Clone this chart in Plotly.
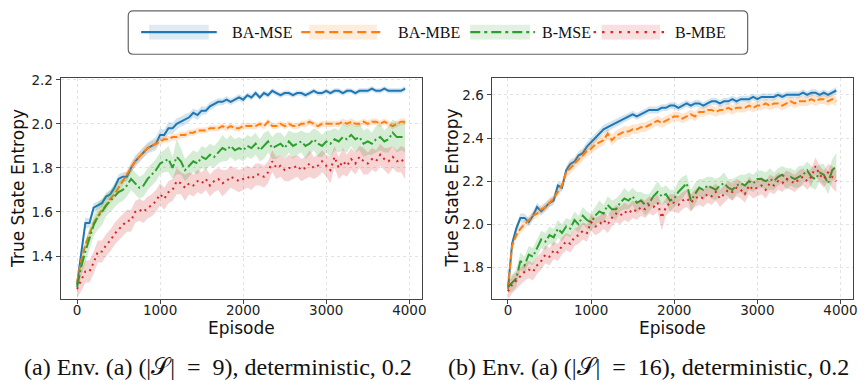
import plotly.graph_objects as go

# ---------------- data ----------------
episodes = list(range(0, 4000, 50))

series_names = ["BA-MSE", "BA-MBE", "B-MSE", "B-MBE"]

# Panel (a): |S| = 9
a_ba_mse = [1.27, 1.42, 1.55, 1.55, 1.62, 1.63, 1.64, 1.67, 1.68, 1.71,
            1.75, 1.76, 1.76, 1.80, 1.83, 1.85, 1.87, 1.89, 1.90, 1.91,
            1.95, 1.95, 1.98, 1.98, 2.00, 2.01, 2.02, 2.03, 2.05, 2.04,
            2.06, 2.06, 2.08, 2.09, 2.10, 2.10, 2.11, 2.10, 2.11, 2.12,
            2.11, 2.13, 2.12, 2.14, 2.12, 2.14, 2.13, 2.15, 2.14, 2.13,
            2.14, 2.14, 2.13, 2.14, 2.14, 2.13, 2.14, 2.15, 2.14, 2.14,
            2.15, 2.14, 2.15, 2.15, 2.14, 2.15, 2.15, 2.14, 2.15, 2.15,
            2.15, 2.16, 2.15, 2.15, 2.16, 2.15, 2.15, 2.15, 2.15, 2.16]
a_ba_mse_sd = [0.02, 0.03, 0.025, 0.02, 0.02, 0.02, 0.018, 0.018, 0.02, 0.02,
               0.02, 0.02, 0.022, 0.022, 0.025, 0.025, 0.025, 0.025, 0.028, 0.03,
               0.028, 0.025, 0.028, 0.025, 0.025, 0.022, 0.024, 0.02, 0.02, 0.022,
               0.02, 0.018, 0.018, 0.016, 0.016, 0.015, 0.015, 0.014, 0.014, 0.015,
               0.014, 0.013, 0.013, 0.013, 0.012, 0.013, 0.012, 0.012, 0.012, 0.012,
               0.012, 0.012, 0.011, 0.012, 0.012, 0.012, 0.011, 0.012, 0.012, 0.012,
               0.012, 0.011, 0.012, 0.012, 0.012, 0.012, 0.011, 0.012, 0.012, 0.012,
               0.012, 0.012, 0.011, 0.012, 0.012, 0.012, 0.012, 0.011, 0.012, 0.012]

a_ba_mbe = [1.28, 1.38, 1.45, 1.50, 1.55, 1.58, 1.61, 1.63, 1.66, 1.68,
            1.71, 1.74, 1.77, 1.80, 1.83, 1.85, 1.87, 1.89, 1.90, 1.91,
            1.92, 1.93, 1.93, 1.94, 1.94, 1.95, 1.95, 1.96, 1.96, 1.97,
            1.97, 1.97, 1.98, 1.98, 1.98, 1.99, 1.98, 1.99, 1.98, 1.98,
            1.99, 1.99, 1.99, 1.99, 2.00, 1.99, 2.01, 1.99, 1.99, 2.00,
            1.99, 2.00, 1.99, 1.99, 2.00, 2.00, 2.01, 2.00, 1.99, 2.00,
            2.00, 2.00, 2.00, 2.00, 2.01, 2.00, 2.01, 2.00, 2.00, 2.01,
            2.00, 2.01, 2.01, 2.00, 2.01, 2.00, 1.99, 2.00, 2.01, 2.01]
a_ba_mbe_sd = [0.02, 0.02, 0.02, 0.02, 0.02, 0.02, 0.02, 0.02, 0.02, 0.02,
               0.02, 0.02, 0.022, 0.022, 0.022, 0.022, 0.022, 0.02, 0.02, 0.018,
               0.016, 0.016, 0.015, 0.015, 0.015, 0.015, 0.015, 0.015, 0.014, 0.014,
               0.014, 0.014, 0.014, 0.014, 0.014, 0.014, 0.014, 0.014, 0.014, 0.014,
               0.014, 0.014, 0.014, 0.014, 0.014, 0.014, 0.014, 0.014, 0.014, 0.014,
               0.014, 0.014, 0.014, 0.014, 0.014, 0.014, 0.014, 0.014, 0.014, 0.014,
               0.014, 0.014, 0.014, 0.014, 0.014, 0.015, 0.015, 0.014, 0.014, 0.014,
               0.014, 0.014, 0.014, 0.014, 0.014, 0.014, 0.014, 0.014, 0.015, 0.015]

a_b_mse = [1.26, 1.35, 1.42, 1.48, 1.54, 1.58, 1.60, 1.63, 1.65, 1.67,
           1.69, 1.70, 1.72, 1.75, 1.73, 1.71, 1.72, 1.75, 1.77, 1.79,
           1.82, 1.83, 1.84, 1.80, 1.85, 1.83, 1.79, 1.81, 1.83, 1.82,
           1.85, 1.84, 1.86, 1.85, 1.87, 1.89, 1.88, 1.90, 1.88, 1.89,
           1.88, 1.90, 1.89, 1.91, 1.88, 1.90, 1.92, 1.89, 1.90, 1.91,
           1.89, 1.92, 1.90, 1.91, 1.92, 1.90, 1.91, 1.93, 1.91, 1.90,
           1.92, 1.91, 1.93, 1.92, 1.94, 1.93, 1.95, 1.93, 1.94, 1.91,
           1.92, 1.91, 1.93, 1.94, 1.92, 1.93, 1.96, 1.94, 1.94, 1.94]
a_b_mse_sd = [0.03, 0.04, 0.05, 0.05, 0.05, 0.06, 0.06, 0.05, 0.05, 0.05,
              0.05, 0.05, 0.05, 0.05, 0.05, 0.05, 0.05, 0.05, 0.05, 0.05,
              0.05, 0.05, 0.06, 0.05, 0.08, 0.06, 0.05, 0.05, 0.05, 0.05,
              0.05, 0.05, 0.05, 0.05, 0.05, 0.06, 0.05, 0.05, 0.05, 0.05,
              0.05, 0.05, 0.05, 0.05, 0.05, 0.06, 0.05, 0.05, 0.06, 0.05,
              0.05, 0.05, 0.06, 0.05, 0.05, 0.06, 0.05, 0.05, 0.06, 0.05,
              0.05, 0.06, 0.05, 0.05, 0.06, 0.06, 0.05, 0.06, 0.06, 0.06,
              0.06, 0.05, 0.06, 0.06, 0.05, 0.06, 0.06, 0.07, 0.06, 0.07]

a_b_mbe = [1.25, 1.29, 1.33, 1.33, 1.37, 1.42, 1.42, 1.45, 1.47, 1.50,
           1.52, 1.54, 1.56, 1.56, 1.60, 1.61, 1.60, 1.62, 1.63, 1.65,
           1.68, 1.66, 1.69, 1.70, 1.74, 1.73, 1.71, 1.73, 1.72, 1.74,
           1.73, 1.75, 1.72, 1.74, 1.75, 1.73, 1.74, 1.76, 1.75, 1.74,
           1.75, 1.76, 1.75, 1.77, 1.77, 1.76, 1.78, 1.83, 1.80, 1.81,
           1.79, 1.80, 1.80, 1.81, 1.79, 1.80, 1.82, 1.80, 1.81, 1.83,
           1.81, 1.79, 1.85, 1.80, 1.83, 1.81, 1.84, 1.82, 1.85, 1.83,
           1.82, 1.84, 1.83, 1.86, 1.84, 1.83, 1.85, 1.83, 1.84, 1.82]
a_b_mbe_sd = [0.04, 0.05, 0.05, 0.05, 0.05, 0.05, 0.05, 0.05, 0.05, 0.05,
              0.05, 0.05, 0.05, 0.05, 0.05, 0.05, 0.05, 0.05, 0.05, 0.05,
              0.05, 0.05, 0.05, 0.05, 0.06, 0.05, 0.06, 0.05, 0.05, 0.05,
              0.05, 0.05, 0.05, 0.05, 0.05, 0.06, 0.05, 0.05, 0.05, 0.05,
              0.05, 0.05, 0.05, 0.05, 0.05, 0.05, 0.05, 0.05, 0.05, 0.05,
              0.05, 0.06, 0.05, 0.05, 0.05, 0.05, 0.06, 0.05, 0.05, 0.05,
              0.05, 0.06, 0.05, 0.05, 0.06, 0.05, 0.05, 0.05, 0.05, 0.06,
              0.05, 0.05, 0.05, 0.05, 0.05, 0.06, 0.05, 0.05, 0.06, 0.07]

# Panel (b): |S| = 16
b_ba_mse = [1.70, 1.91, 1.98, 2.03, 2.03, 2.01, 2.04, 2.08, 2.06, 2.08,
            2.10, 2.11, 2.18, 2.17, 2.25, 2.28, 2.29, 2.32, 2.33, 2.36,
            2.38, 2.40, 2.42, 2.44, 2.45, 2.46, 2.47, 2.48, 2.49, 2.50,
            2.51, 2.50, 2.51, 2.52, 2.53, 2.53, 2.53, 2.54, 2.54, 2.55,
            2.55, 2.54, 2.55, 2.56, 2.55, 2.56, 2.56, 2.55, 2.56, 2.57,
            2.57, 2.56, 2.57, 2.57, 2.58, 2.57, 2.58, 2.58, 2.58, 2.59,
            2.58, 2.59, 2.59, 2.59, 2.59, 2.60, 2.59, 2.60, 2.60, 2.60,
            2.60, 2.61, 2.60, 2.61, 2.61, 2.60, 2.61, 2.60, 2.61, 2.62]
b_ba_mse_sd = [0.015, 0.02, 0.02, 0.02, 0.02, 0.02, 0.02, 0.02, 0.02, 0.02,
               0.02, 0.02, 0.02, 0.02, 0.02, 0.02, 0.02, 0.02, 0.022, 0.022,
               0.022, 0.022, 0.02, 0.02, 0.02, 0.02, 0.018, 0.018, 0.018, 0.016,
               0.016, 0.016, 0.016, 0.016, 0.016, 0.016, 0.016, 0.016, 0.016, 0.016,
               0.016, 0.016, 0.016, 0.016, 0.016, 0.016, 0.016, 0.016, 0.016, 0.016,
               0.016, 0.016, 0.016, 0.016, 0.016, 0.016, 0.016, 0.016, 0.016, 0.016,
               0.016, 0.016, 0.016, 0.016, 0.016, 0.016, 0.016, 0.016, 0.016, 0.016,
               0.016, 0.016, 0.016, 0.016, 0.016, 0.016, 0.016, 0.016, 0.016, 0.016]

b_ba_mbe = [1.70, 1.90, 1.95, 1.98, 2.00, 2.02, 2.04, 2.05, 2.07, 2.08,
            2.10, 2.12, 2.15, 2.18, 2.24, 2.26, 2.28, 2.30, 2.32, 2.34,
            2.35, 2.37, 2.38, 2.39, 2.42, 2.39, 2.41, 2.42, 2.43, 2.43,
            2.44, 2.44, 2.45, 2.45, 2.46, 2.47, 2.48, 2.47, 2.48, 2.49,
            2.50, 2.50, 2.49, 2.50, 2.51, 2.50, 2.52, 2.52, 2.53, 2.53,
            2.52, 2.53, 2.53, 2.54, 2.53, 2.54, 2.54, 2.54, 2.55, 2.54,
            2.55, 2.55, 2.56, 2.55, 2.56, 2.56, 2.55, 2.56, 2.57, 2.56,
            2.57, 2.57, 2.57, 2.58, 2.57, 2.58, 2.58, 2.57, 2.58, 2.57]
b_ba_mbe_sd = [0.02, 0.02, 0.02, 0.02, 0.02, 0.02, 0.02, 0.02, 0.02, 0.02,
               0.02, 0.02, 0.02, 0.02, 0.025, 0.025, 0.025, 0.025, 0.025, 0.025,
               0.025, 0.025, 0.025, 0.025, 0.025, 0.025, 0.025, 0.025, 0.025, 0.025,
               0.022, 0.022, 0.022, 0.022, 0.022, 0.022, 0.022, 0.022, 0.022, 0.022,
               0.022, 0.022, 0.022, 0.022, 0.022, 0.022, 0.022, 0.022, 0.022, 0.022,
               0.022, 0.022, 0.022, 0.022, 0.022, 0.022, 0.022, 0.022, 0.022, 0.022,
               0.022, 0.022, 0.022, 0.022, 0.022, 0.022, 0.022, 0.022, 0.022, 0.022,
               0.022, 0.022, 0.022, 0.022, 0.022, 0.022, 0.022, 0.022, 0.022, 0.022]

b_b_mse = [1.71, 1.73, 1.75, 1.83, 1.81, 1.86, 1.85, 1.89, 1.93, 1.92,
           1.95, 1.94, 1.98, 1.96, 1.99, 1.98, 2.02, 2.00, 2.04, 2.02,
           2.01, 2.04, 2.06, 2.05, 2.09, 2.07, 2.07, 2.10, 2.12, 2.11,
           2.13, 2.10, 2.11, 2.09, 2.10, 2.13, 2.15, 2.13, 2.14, 2.11,
           2.12, 2.15, 2.17, 2.19, 2.11, 2.14, 2.17, 2.16, 2.18, 2.17,
           2.16, 2.18, 2.19, 2.17, 2.16, 2.18, 2.19, 2.18, 2.20, 2.19,
           2.21, 2.21, 2.20, 2.21, 2.20, 2.22, 2.23, 2.21, 2.22, 2.21,
           2.22, 2.23, 2.25, 2.22, 2.21, 2.24, 2.23, 2.19, 2.25, 2.27]
b_b_mse_sd = [0.03, 0.04, 0.04, 0.04, 0.04, 0.04, 0.04, 0.04, 0.04, 0.04,
              0.04, 0.04, 0.04, 0.04, 0.04, 0.04, 0.04, 0.04, 0.04, 0.04,
              0.04, 0.04, 0.05, 0.04, 0.04, 0.04, 0.05, 0.04, 0.05, 0.04,
              0.04, 0.05, 0.04, 0.05, 0.04, 0.04, 0.05, 0.04, 0.04, 0.05,
              0.04, 0.05, 0.05, 0.04, 0.05, 0.05, 0.04, 0.05, 0.04, 0.05,
              0.05, 0.04, 0.05, 0.04, 0.05, 0.04, 0.04, 0.05, 0.04, 0.04,
              0.04, 0.04, 0.04, 0.05, 0.04, 0.04, 0.04, 0.05, 0.04, 0.04,
              0.05, 0.04, 0.04, 0.05, 0.05, 0.04, 0.05, 0.05, 0.05, 0.06]

b_b_mbe = [1.69, 1.72, 1.74, 1.76, 1.78, 1.79, 1.78, 1.81, 1.83, 1.86,
           1.85, 1.88, 1.87, 1.90, 1.92, 1.91, 1.94, 1.95, 1.97, 1.96,
           2.01, 1.99, 2.00, 2.02, 2.00, 2.03, 2.05, 2.04, 2.06, 2.05,
           2.07, 2.06, 2.08, 2.07, 2.09, 2.08, 2.10, 2.03, 2.08, 2.10,
           2.10, 2.09, 2.11, 2.12, 2.10, 2.12, 2.13, 2.12, 2.14, 2.13,
           2.15, 2.12, 2.14, 2.16, 2.15, 2.17, 2.16, 2.14, 2.18, 2.16,
           2.17, 2.18, 2.16, 2.19, 2.18, 2.20, 2.19, 2.21, 2.20, 2.19,
           2.21, 2.22, 2.20, 2.22, 2.27, 2.23, 2.21, 2.24, 2.22, 2.20]
b_b_mbe_sd = [0.04, 0.04, 0.04, 0.04, 0.04, 0.04, 0.04, 0.04, 0.04, 0.04,
              0.04, 0.04, 0.04, 0.04, 0.04, 0.04, 0.04, 0.04, 0.04, 0.04,
              0.04, 0.04, 0.04, 0.04, 0.04, 0.04, 0.04, 0.04, 0.04, 0.04,
              0.04, 0.04, 0.04, 0.04, 0.04, 0.04, 0.04, 0.06, 0.04, 0.04,
              0.04, 0.04, 0.04, 0.04, 0.04, 0.04, 0.04, 0.04, 0.04, 0.04,
              0.04, 0.04, 0.04, 0.04, 0.04, 0.04, 0.04, 0.04, 0.04, 0.04,
              0.04, 0.04, 0.04, 0.04, 0.04, 0.04, 0.04, 0.04, 0.04, 0.04,
              0.04, 0.04, 0.04, 0.04, 0.04, 0.04, 0.04, 0.04, 0.05, 0.05]

x_ticks = [0, 1000, 2000, 3000, 4000]
a_y_ticks = [1.4, 1.6, 1.8, 2.0, 2.2]
b_y_ticks = [1.8, 2.0, 2.2, 2.4, 2.6]

captions = ["(a) Env. (a) (|𝒮|\u2002=\u20029), deterministic, 0.2",
            "(b) Env. (a) (|𝒮|\u2002=\u200216), deterministic, 0.2"]

# ---------------- styles ----------------
colors = ["#1f77b4", "#ff7f0e", "#2ca02c", "#d62728"]
fills = ["rgba(31,119,180,0.2)", "rgba(255,127,14,0.2)",
         "rgba(44,160,44,0.2)", "rgba(214,39,40,0.2)"]
dashes = ["solid", "7px,3px", "12px,3px,2px,3px", "2px,4px"]

W, H = 864, 381


def px(x):
    return x / W


def py(y):
    return 1 - y / H


fig = go.Figure()

panels = [
    ("x", "y", [a_ba_mse, a_ba_mbe, a_b_mse, a_b_mbe],
     [a_ba_mse_sd, a_ba_mbe_sd, a_b_mse_sd, a_b_mbe_sd]),
    ("x2", "y2", [b_ba_mse, b_ba_mbe, b_b_mse, b_b_mbe],
     [b_ba_mse_sd, b_ba_mbe_sd, b_b_mse_sd, b_b_mbe_sd]),
]

for xa, ya, means, sds in panels:
    for k in range(4):
        m, s = means[k], sds[k]
        upper = [a + b for a, b in zip(m, s)]
        lower = [a - b for a, b in zip(m, s)]
        fig.add_trace(go.Scatter(
            x=episodes + episodes[::-1], y=upper + lower[::-1],
            fill="toself", fillcolor=fills[k], line=dict(width=0),
            mode="lines", hoverinfo="skip", showlegend=False,
            xaxis=xa, yaxis=ya))
        fig.add_trace(go.Scatter(
            x=episodes, y=m, mode="lines", name=series_names[k],
            line=dict(color=colors[k], width=2, dash=dashes[k]),
            showlegend=False, xaxis=xa, yaxis=ya))

tick_font = dict(family="DejaVu Sans", size=13.5, color="#222")
axis_common = dict(showline=True, mirror=True, linecolor="#444", linewidth=1,
                   ticks="outside", ticklen=4, tickcolor="#444", tickwidth=1,
                   showgrid=True, gridcolor="#e3e3e3", griddash="dot", gridwidth=1,
                   zeroline=False, tickfont=tick_font)

fig.update_layout(
    width=W, height=H, margin=dict(l=0, r=0, t=0, b=0),
    paper_bgcolor="white", plot_bgcolor="white", showlegend=False,
    xaxis=dict(domain=[px(61), px(424)], range=[-197.5, 4147.5], ticklabelstandoff=-5,
               tickvals=x_ticks, ticktext=[str(v) for v in x_ticks], anchor="y", **axis_common),
    yaxis=dict(domain=[py(297.3), py(72.7)], range=[1.2065, 2.2103],
               tickvals=a_y_ticks, ticktext=[f"{v:.1f}" for v in a_y_ticks], anchor="x", **axis_common),
    xaxis2=dict(domain=[px(494.4), px(857.7)], range=[-197.5, 4147.5], ticklabelstandoff=-5,
                tickvals=x_ticks, ticktext=[str(v) for v in x_ticks], anchor="y2", **axis_common),
    yaxis2=dict(domain=[py(297.3), py(72.7)], range=[1.656, 2.68],
                tickvals=b_y_ticks, ticktext=[f"{v:.1f}" for v in b_y_ticks], anchor="x2", **axis_common),
)

title_font = dict(family="DejaVu Sans", size=17, color="#111")
ann = []
for cx in (242.5, 676):
    ann.append(dict(text="Episode", x=px(cx), y=py(327), xref="paper", yref="paper",
                    xanchor="center", yanchor="middle", showarrow=False, font=title_font))
for cx in (18, 455):
    ann.append(dict(text="True State Entropy", x=px(cx), y=py(185), xref="paper", yref="paper",
                    xanchor="center", yanchor="middle", showarrow=False, textangle=-90,
                    font=title_font))
cap_font = dict(family="Liberation Serif", size=24, color="#111")
for cx, txt in zip((219, 652), captions):
    ann.append(dict(text=txt, x=px(cx), y=py(367), xref="paper", yref="paper",
                    xanchor="center", yanchor="middle", showarrow=False, font=cap_font))

# ---------------- legend (drawn manually) ----------------
shapes = []
bx0, bx1, by0, by1, r = 129, 752, 5, 49, 5
path = (f"M {px(bx0 + r)},{py(by0)} L {px(bx1 - r)},{py(by0)} "
        f"Q {px(bx1)},{py(by0)} {px(bx1)},{py(by0 + r)} "
        f"L {px(bx1)},{py(by1 - r)} Q {px(bx1)},{py(by1)} {px(bx1 - r)},{py(by1)} "
        f"L {px(bx0 + r)},{py(by1)} Q {px(bx0)},{py(by1)} {px(bx0)},{py(by1 - r)} "
        f"L {px(bx0)},{py(by0 + r)} Q {px(bx0)},{py(by0)} {px(bx0 + r)},{py(by0)} Z")
shapes.append(dict(type="path", path=path, xref="paper", yref="paper",
                   line=dict(color="#666", width=1.2), fillcolor="white", layer="above"))

leg_line = [(142, 218), (303, 386), (473, 538), (597, 670)]
leg_patch = [(150, 210), (311, 379), (473, 533), (605, 664)]
leg_text = [231, 398, 543, 677]
leg_dash = ["solid", "9px,5px", "10px,4px,3px,4px", "2.5px,6px"]
for k in range(4):
    shapes.append(dict(type="rect", xref="paper", yref="paper",
                       x0=px(leg_patch[k][0]), x1=px(leg_patch[k][1]),
                       y0=py(34), y1=py(19), fillcolor=fills[k].replace("0.2", "0.15"),
                       line=dict(width=0), layer="above"))
    shapes.append(dict(type="line", xref="paper", yref="paper",
                       x0=px(leg_line[k][0]), x1=px(leg_line[k][1]),
                       y0=py(26.5), y1=py(26.5),
                       line=dict(color=colors[k], width=2.2, dash=leg_dash[k]), layer="above"))
    ann.append(dict(text=series_names[k], x=px(leg_text[k]), y=py(27), xref="paper", yref="paper",
                    xanchor="left", yanchor="middle", showarrow=False,
                    font=dict(family="Liberation Serif", size=16, color="#111")))

fig.update_layout(annotations=ann, shapes=shapes)
fig.write_html("out.html")
